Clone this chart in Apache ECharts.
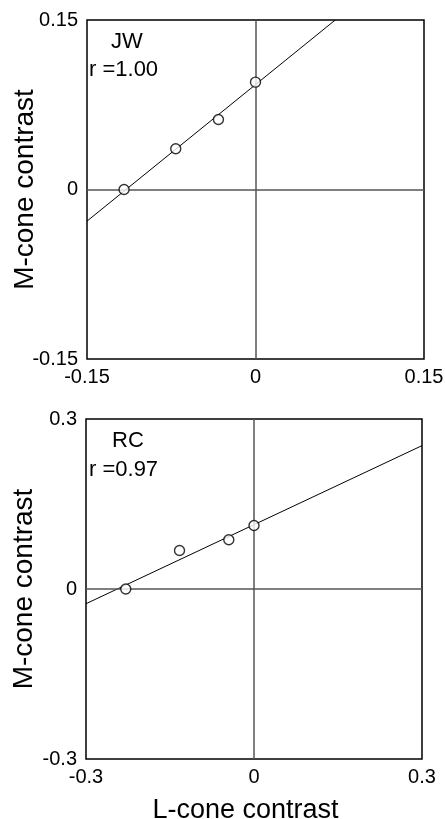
<!DOCTYPE html>
<html>
<head>
<meta charset="utf-8">
<script src="https://cdn.jsdelivr.net/npm/echarts@6/dist/echarts.min.js"></script>
<style>
html,body{margin:0;padding:0;background:#fff;}
#chart{width:445px;height:819px;}
</style>
</head>
<body>
<div id="chart"></div>
<script>
// ---- data ----
// Top panel (JW)
const jwL = [-0.117, -0.071, -0.033, 0.0];
const jwM = [0.0, 0.036, 0.062, 0.095];
const jwFitL = [-0.15, 0.071];
const jwFitM = [-0.028, 0.15];
const jwTicks = [-0.15, 0, 0.15];
const jwLabel = 'JW';
const jwR = 'r =1.00';
// Bottom panel (RC)
const rcL = [-0.229, -0.133, -0.045, 0.0];
const rcM = [0.0, 0.068, 0.087, 0.112];
const rcFitL = [-0.3, 0.3];
const rcFitM = [-0.026, 0.253];
const rcTicks = [-0.3, 0, 0.3];
const rcLabel = 'RC';
const rcR = 'r =0.97';
const xName = 'L-cone contrast';
const yName = 'M-cone contrast';

const FONT = '"Liberation Sans", Arial, Helvetica, sans-serif';
const zip = (a, b) => a.map((v, i) => [v, b[i]]);

function xAxisFor(gi, ticks, withName) {
  return {
    gridIndex: gi, type: 'value',
    min: ticks[0], max: ticks[ticks.length - 1], interval: ticks[1] - ticks[0],
    axisLine: {show: false}, axisTick: {show: false}, splitLine: {show: false},
    axisLabel: {color: '#000', fontSize: 20, fontFamily: FONT, margin: 8,
      showMinLabel: true, showMaxLabel: true},
    name: withName ? xName : '',
    nameLocation: 'middle', nameGap: 38, nameMoveOverlap: false,
    nameTextStyle: {color: '#000', fontSize: 27, fontFamily: FONT, padding: [0, 17, 0, 0]}
  };
}
function yAxisFor(gi, ticks) {
  return {
    gridIndex: gi, type: 'value',
    min: ticks[0], max: ticks[ticks.length - 1], interval: ticks[1] - ticks[0],
    axisLine: {show: false}, axisTick: {show: false}, splitLine: {show: false},
    axisLabel: {color: '#000', fontSize: 20, fontFamily: FONT, margin: 9,
      showMinLabel: true, showMaxLabel: true},
    name: yName, nameLocation: 'middle', nameGap: 48, nameMoveOverlap: false,
    nameTextStyle: {color: '#000', fontSize: 28, fontFamily: FONT}
  };
}
function seriesFor(gi, xs, ys, fx, fy) {
  return [
    {
      type: 'line', xAxisIndex: gi, yAxisIndex: gi,
      data: zip(fx, fy), symbol: 'none', silent: true,
      lineStyle: {color: '#000', width: 1}, z: 3,
      markLine: {
        silent: true, symbol: 'none', label: {show: false},
        lineStyle: {color: '#555', width: 1.5, type: 'solid'},
        data: [{xAxis: 0}, {yAxis: 0}]
      }
    },
    {
      type: 'scatter', xAxisIndex: gi, yAxisIndex: gi,
      data: zip(xs, ys), symbol: 'circle', symbolSize: 10,
      itemStyle: {color: '#fff', borderColor: '#000', borderWidth: 1.4}, z: 5
    }
  ];
}

const gridBase = {show: true, borderColor: '#000', borderWidth: 1.5, backgroundColor: 'transparent',
  containLabel: false, outerBoundsMode: 'none'};

const chart = echarts.init(document.getElementById('chart'), null, {renderer: 'canvas'});
chart.setOption({
  animation: false,
  backgroundColor: '#fff',
  grid: [
    Object.assign({left: 87, top: 20, width: 337, height: 339}, gridBase),
    Object.assign({left: 86, top: 419, width: 336, height: 340}, gridBase)
  ],
  xAxis: [xAxisFor(0, jwTicks, false), xAxisFor(1, rcTicks, true)],
  yAxis: [yAxisFor(0, jwTicks), yAxisFor(1, rcTicks)],
  series: [].concat(
    seriesFor(0, jwL, jwM, jwFitL, jwFitM),
    seriesFor(1, rcL, rcM, rcFitL, rcFitM)
  ),
  graphic: [
    {type: 'text', x: 127, y: 42, style: {text: jwLabel, font: '22px ' + FONT, fill: '#000', align: 'center', verticalAlign: 'middle', textAlign: 'center', textVerticalAlign: 'middle'}},
    {type: 'text', x: 89, y: 70, style: {text: jwR, font: '22px ' + FONT, fill: '#000', align: 'left', verticalAlign: 'middle', textAlign: 'left', textVerticalAlign: 'middle'}},
    {type: 'text', x: 128, y: 441, style: {text: rcLabel, font: '22px ' + FONT, fill: '#000', align: 'center', verticalAlign: 'middle', textAlign: 'center', textVerticalAlign: 'middle'}},
    {type: 'text', x: 89, y: 470, style: {text: rcR, font: '22px ' + FONT, fill: '#000', align: 'left', verticalAlign: 'middle', textAlign: 'left', textVerticalAlign: 'middle'}}
  ]
});
</script>
</body>
</html>
